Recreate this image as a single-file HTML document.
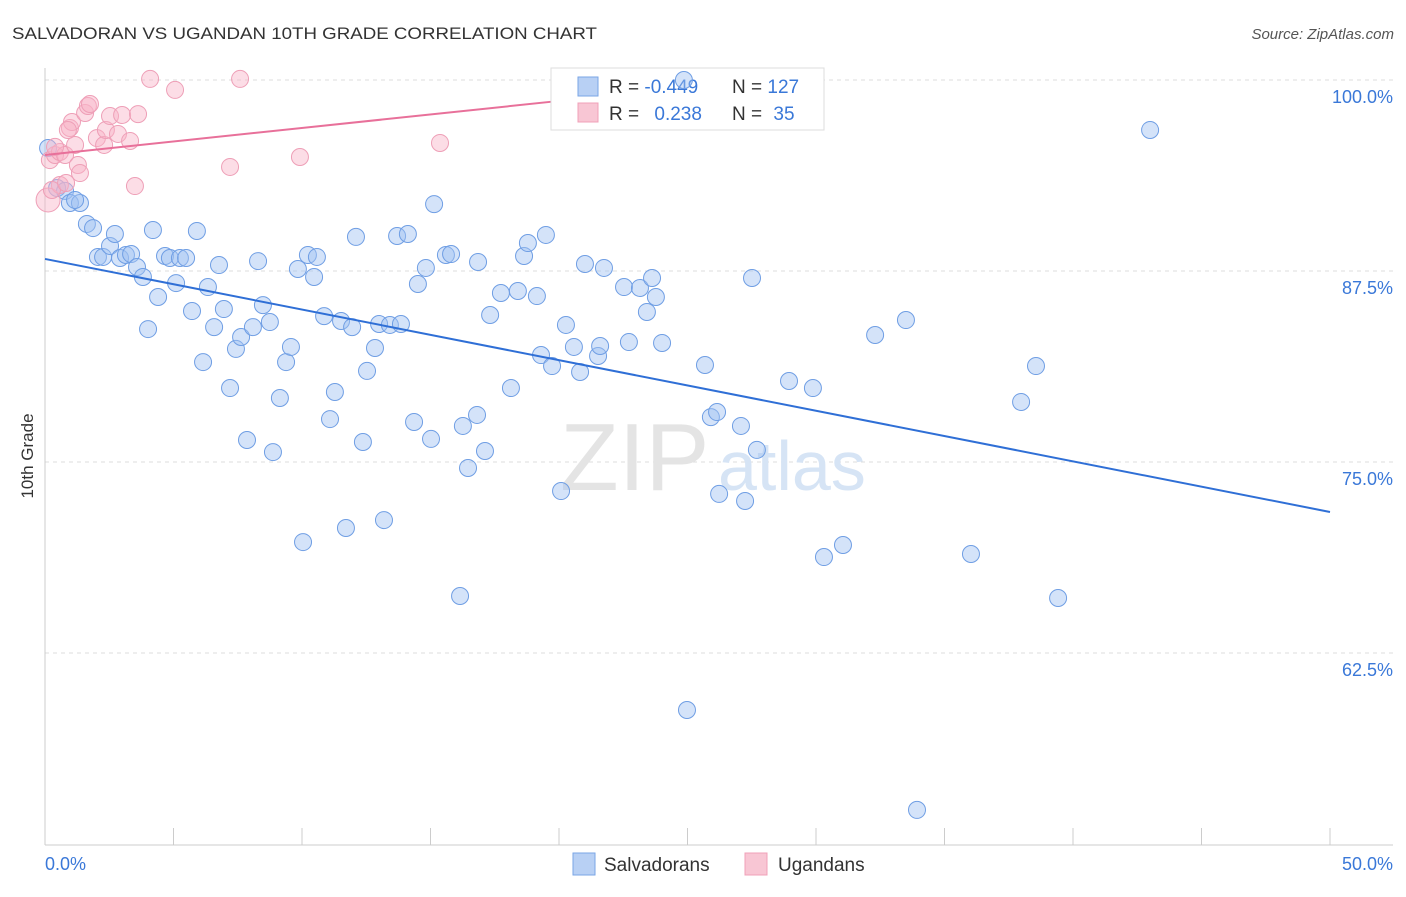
<!DOCTYPE html>
<html><head><meta charset="utf-8"><style>
body{margin:0;background:#fff;font-family:"Liberation Sans",sans-serif;}
svg text{font-family:"Liberation Sans",sans-serif;}
</style></head><body>
<svg id="chart" width="1406" height="892" xmlns="http://www.w3.org/2000/svg">
<text x="12" y="39" font-size="17" fill="#333" textLength="585" lengthAdjust="spacingAndGlyphs">SALVADORAN VS UGANDAN 10TH GRADE CORRELATION CHART</text>
<text x="1394" y="39" font-size="15" fill="#555" text-anchor="end" font-style="italic">Source: ZipAtlas.com</text>
<text transform="translate(33,456) rotate(-90)" font-size="17" fill="#333" text-anchor="middle">10th Grade</text>
<g id="grid"></g>
<g id="axes"></g>
<text x="560" y="490" font-size="96" fill="#e4e4e4" font-family="Liberation Serif">ZIP</text>
<text x="718" y="490" font-size="70" fill="#d6e4f5">atlas</text>
<g id="marks"></g>
<g>
<rect x="551" y="68" width="273" height="62" fill="#fff" stroke="#ddd"/>
<rect x="578" y="77" width="20" height="19" fill="#b8d0f4" stroke="#7aa6e6"/>
<rect x="578" y="103" width="20" height="19" fill="#f8c6d4" stroke="#f0a0b8"/>
<text x="609" y="93" font-size="19" fill="#333">R = <tspan fill="#3a78d8">-0.449</tspan></text>
<text x="732" y="93" font-size="19" fill="#333">N = <tspan fill="#3a78d8">127</tspan></text>
<text x="609" y="120" font-size="19" fill="#333">R = <tspan fill="#3a78d8" dx="10">0.238</tspan></text>
<text x="732" y="120" font-size="19" fill="#333">N = <tspan fill="#3a78d8" dx="6">35</tspan></text>
</g>
<g id="overlay"></g>
<g>
<rect x="573" y="853" width="22" height="22" fill="#b8d0f4" stroke="#7aa6e6"/>
<text x="604" y="871" font-size="19" fill="#333">Salvadorans</text>
<rect x="745" y="853" width="22" height="22" fill="#f8c6d4" stroke="#f0a0b8"/>
<text x="778" y="871" font-size="19" fill="#333">Ugandans</text>
</g>
</svg>
<script>
const yTicks=[100,87.5,75,62.5];
const yTickLabels=["100.0%","87.5%","75.0%","62.5%"];
const xTickLabels=["0.0%","50.0%"];
const salvX=[0.12,0.47,0.78,0.97,1.36,1.17,1.63,1.87,2.06,2.26,2.53,2.72,2.92,3.15,3.35,3.58,3.81,4.01,4.20,4.40,4.67,4.86,5.10,5.25,5.49,5.72,5.91,6.15,6.34,6.58,6.77,6.96,7.20,7.43,7.63,7.86,8.09,8.29,8.48,8.75,8.87,9.14,9.38,9.57,9.84,10.04,10.23,10.47,10.58,10.86,11.09,11.28,11.52,11.71,11.95,12.10,12.37,12.53,12.84,13.00,13.19,13.42,13.70,13.85,14.12,14.36,14.51,14.82,15.02,15.14,15.60,15.80,16.15,16.26,16.46,16.81,16.85,17.12,17.32,17.74,18.13,18.40,18.64,18.79,19.14,19.30,19.49,19.73,20.08,20.27,20.58,20.82,21.01,21.52,21.60,21.75,22.53,22.72,23.15,23.42,23.62,23.77,24.01,24.98,25.68,25.91,26.15,26.23,27.08,27.24,27.51,27.70,28.95,29.88,30.31,31.05,32.30,33.50,36.03,37.98,38.56,39.42,43.00,33.93,24.86];
const salvY=[95.55,92.93,92.74,91.95,91.95,92.15,90.58,90.31,88.42,88.42,89.14,89.92,88.35,88.55,88.61,87.76,87.11,83.70,90.18,85.80,88.48,88.35,86.71,88.35,88.35,84.88,90.12,81.54,86.45,83.83,87.89,85.01,79.84,82.40,83.18,76.44,83.83,88.15,85.27,84.16,75.65,79.19,81.54,82.53,87.63,69.76,88.55,87.11,88.42,84.55,77.81,79.58,84.23,70.68,83.83,89.73,76.31,80.96,82.46,84.03,71.20,83.97,89.79,84.03,89.92,77.62,86.65,87.70,76.51,91.88,88.55,88.61,66.23,77.36,74.61,78.08,88.09,75.72,84.62,86.06,79.84,86.19,88.48,89.33,85.86,82.00,89.86,81.28,73.10,83.97,82.53,80.89,87.96,81.94,82.59,87.70,86.45,82.85,86.39,84.82,87.04,85.80,82.79,58.77,81.35,77.94,78.27,72.91,77.36,72.45,87.04,75.79,80.30,79.84,68.78,69.57,83.31,84.29,68.98,78.93,81.28,66.10,96.73,52.23,100.0];
const ugX=[0.12,0.19,0.39,0.58,0.78,0.97,1.05,1.17,1.28,1.36,1.56,1.67,1.75,2.02,2.30,2.37,2.53,2.84,3.00,3.31,3.62,3.50,4.09,5.06,7.20,7.59,9.92,15.37,0.58,0.27,0.82,0.39,0.89];
const ugY=[92.15,94.76,95.09,95.29,95.09,96.86,97.25,95.75,94.44,93.91,97.84,98.30,98.43,96.20,95.75,96.73,97.64,96.47,97.71,96.01,97.77,93.06,100.07,99.35,94.31,100.07,94.96,95.88,93.13,92.80,93.26,95.62,96.73];
const salvTrend=[88.29,-0.3312]; // intercept, slope
const ugTrend=[95.09,0.177];
const ugTrendMaxX=[20];

const X0=45,X1=1330,YTOP=80,PXPER=15.28;
const sx=v=>X0+(X1-X0)*v/50;
const sy=v=>YTOP+(100-v)*PXPER;
const NS="http://www.w3.org/2000/svg";
function mk(tag,attrs,parent){const e=document.createElementNS(NS,tag);for(const k in attrs)e.setAttribute(k,attrs[k]);parent.appendChild(e);return e;}
const grid=document.getElementById('grid'),axes=document.getElementById('axes'),marks=document.getElementById('marks'),topG=document.getElementById('overlay');
yTicks.forEach((t,i)=>{
  const l=mk('line',{x1:45,x2:1393,y1:sy(t),y2:sy(t),stroke:'#ddd','stroke-dasharray':'4,4'},grid);
  
  
  const tx=mk('text',{x:1393,y:sy(t)+23,'font-size':18,fill:'#3a78d8','text-anchor':'end'},axes);
  tx.textContent=yTickLabels[i];
  
  
});
mk('line',{x1:45,x2:45,y1:68,y2:845,stroke:'#ccc'},axes);
mk('line',{x1:45,x2:1393,y1:845,y2:845,stroke:'#ccc'},axes);
for(let i=0;i<=10;i++){
  const t=mk('line',{x1:sx(i*5),x2:sx(i*5),y1:828,y2:845,stroke:'#ccc'},axes);
  
  
}
const xl0=mk('text',{x:45,y:870,'font-size':18,fill:'#3a78d8'},axes);xl0.textContent=xTickLabels[0];


const xl1=mk('text',{x:1393,y:870,'font-size':18,fill:'#3a78d8','text-anchor':'end'},axes);xl1.textContent=xTickLabels[1];


salvX.forEach((x,i)=>{
  const inLegend=sx(x)>545&&sx(x)<830&&sy(salvY[i])<135;
  const c=mk('circle',{cx:sx(x),cy:sy(salvY[i]),r:8.5,fill:'rgba(160,192,242,0.45)',stroke:'#6f9ee4','stroke-width':1},inLegend?topG:marks);
  
  
});
ugX.forEach((x,i)=>{
  const c=mk('circle',{cx:sx(x),cy:sy(ugY[i]),r:i==0?12:8.5,fill:'rgba(248,180,200,0.45)',stroke:'#ee9fb7','stroke-width':1},marks);
  
  
});
const tl1=mk('line',{x1:sx(0),y1:sy(salvTrend[0]),x2:sx(50),y2:sy(salvTrend[0]+50*salvTrend[1]),stroke:'#2f6fd6','stroke-width':2},marks);


const tl2=mk('line',{x1:sx(0),y1:sy(ugTrend[0]),x2:sx(ugTrendMaxX[0]),y2:sy(ugTrend[0]+ugTrendMaxX[0]*ugTrend[1]),stroke:'#e8709a','stroke-width':2},marks);


</script>
</body></html>
